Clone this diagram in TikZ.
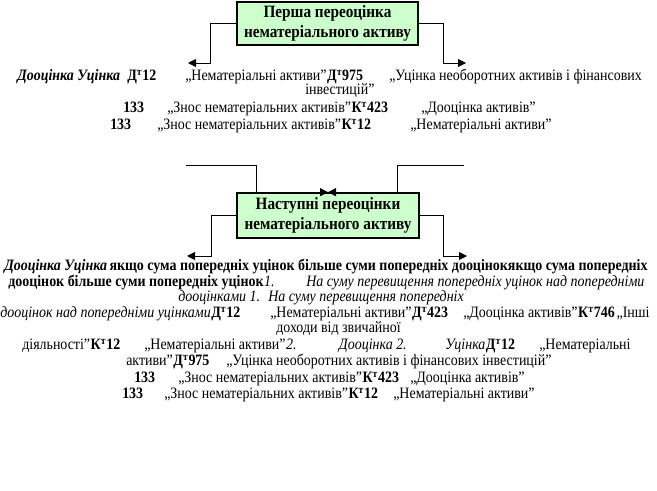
\documentclass[tikz,border=0pt]{standalone}
\usepackage{fontspec}
\setmainfont{Liberation Serif}[FakeStretch=0.88]
\usetikzlibrary{positioning,arrows.meta,calc}
\definecolor{boxgreen}{RGB}{204,255,204}
\newcommand{\deb}[1]{\textbf{Д\textsuperscript{т}#1}}
\newcommand{\kred}[1]{\textbf{К\textsuperscript{т}#1}}
\tikzset{
  revalbox/.style={draw, line width=1.2pt, fill=boxgreen, align=center, inner sep=0pt,
    font=\fontsize{13}{14.5}\selectfont\bfseries},
  link/.style={-{Triangle[length=6pt,width=6pt]}, line width=0.7pt},
  entry/.style={anchor=base west, inner sep=0pt, font=\fontsize{11.9}{13}\selectfont},
  strong/.style={entry, font=\fontsize{11.9}{13}\selectfont\bfseries},
  slant/.style={entry, font=\fontsize{11.9}{13}\selectfont\itshape},
  strongslant/.style={entry, font=\fontsize{11.9}{13}\selectfont\bfseries\itshape}
}

\begin{document}
\begin{tikzpicture}[x=0.75pt, y=-0.75pt]
\useasboundingbox (0,0) rectangle (657,491);

\node[revalbox, minimum width=135.75pt, minimum height=32.25pt] (first) at (327.5,23.5) {Перша переоцінка\\нематеріального активу};
\coordinate (firstL) at (188,63);
\coordinate (firstR) at (466,63);
\draw[link] (first.west) -- ++(-26,0) |- (firstL);
\draw[link] (first.east) -- ++(25,0) |- (firstR);

\node[strongslant] (a1) at (17,81) {Дооцінка Уцінка};
\node[entry] (a2) at (127,81) {\deb{12}};
\node[entry] (a3) at (185,81) {„Нематеріальні активи”};
\node[entry] (a4) at (a3.base east) {\deb{975}};
\node[entry] (a5) at (389,81) {„Уцінка необоротних активів і фінансових};
\node[entry] (a6) at (305,95) {інвестицій”};
\node[strong] (a7) at (123,113) {133};
\node[entry] (a8) at (167,113) {„Знос нематеріальних активів”};
\node[entry] (a9) at (a8.base east) {\kred{423}};
\node[entry] (a10) at (421,113) {„Дооцінка активів”};
\node[strong] (a11) at (110,130) {133};
\node[entry] (a12) at (157,130) {„Знос нематеріальних активів”};
\node[entry] (a13) at (a12.base east) {\kred{12}};
\node[entry] (a14) at (410,130) {„Нематеріальні активи”};

\node[revalbox, minimum width=136.5pt, minimum height=33.75pt] (next) at (328,215.5) {Наступні переоцінки\\нематеріального активу};
\coordinate (nextTL) at (186,165);
\coordinate (nextTR) at (464,165);
\draw[link] (nextTL) -| ($(next.north)+(-72,0)$) -- (next.north);
\draw[link] (nextTR) -| ($(next.north)+(69,0)$) -- (next.north);
\coordinate (nextL) at (187,256);
\coordinate (nextR) at (467,256);
\draw[link] (next.west) -- ++(-25,0) |- (nextL);
\draw[link] (next.east) -- ++(24,0) |- (nextR);

\node[strongslant] (b1) at (4,271) {Дооцінка Уцінка};
\node[strong] (b2) at ([xshift=1.5pt]b1.base east) {якщо сума попередніх уцінок більше суми попередніх дооцінокякщо сума попередніх};
\node[strong] (b3) at (8,287) {дооцінок більше суми попередніх уцінок};
\node[slant] (b4) at (b3.base east) {1.};
\node[slant] (b5) at (306,287) {На суму перевищення попередніх уцінок над попередніми};
\node[slant] (b6) at (178,302) {дооцінками 1.};
\node[slant] (b7) at (268,302) {На суму перевищення попередніх};
\node[slant] (b8) at (0,318) {дооцінок над попередніми уцінками};
\node[entry] (b9) at (b8.base east) {\deb{12}};
\node[entry] (b10) at (270,318) {„Нематеріальні активи”};
\node[entry] (b11) at (b10.base east) {\deb{423}};
\node[entry] (b12) at (463,318) {„Дооцінка активів”};
\node[entry] (b13) at (b12.base east) {\kred{746}};
\node[entry] (b14) at ([xshift=1pt]b13.base east) {„Інші};
\node[entry] (b15) at (276,333) {доходи від звичайної};
\node[entry] (b16) at (22,350) {діяльності”};
\node[entry] (b17) at (b16.base east) {\kred{12}};
\node[entry] (b18) at (144,350) {„Нематеріальні активи”};
\node[slant] (b19) at (b18.base east) {2.};
\node[slant, anchor=base east] (b20) at (407,350) {Дооцінка 2.};
\node[slant] (b21) at (445,350) {Уцінка};
\node[entry] (b22) at (b21.base east) {\deb{12}};
\node[entry] (b23) at (539,350) {„Нематеріальні};
\node[entry] (b24) at (126,366) {активи”};
\node[entry] (b25) at (b24.base east) {\deb{975}};
\node[entry] (b26) at (226,366) {„Уцінка необоротних активів і фінансових інвестицій”};
\node[strong] (b27) at (134,383) {133};
\node[entry] (b28) at (178,383) {„Знос нематеріальних активів”};
\node[entry] (b29) at (b28.base east) {\kred{423}};
\node[entry] (b30) at (410,383) {„Дооцінка активів”};
\node[strong] (b31) at (122,399) {133};
\node[entry] (b32) at (164,399) {„Знос нематеріальних активів”};
\node[entry] (b33) at (b32.base east) {\kred{12}};
\node[entry] (b34) at (393,399) {„Нематеріальні активи”};
\end{tikzpicture}
\end{document}
